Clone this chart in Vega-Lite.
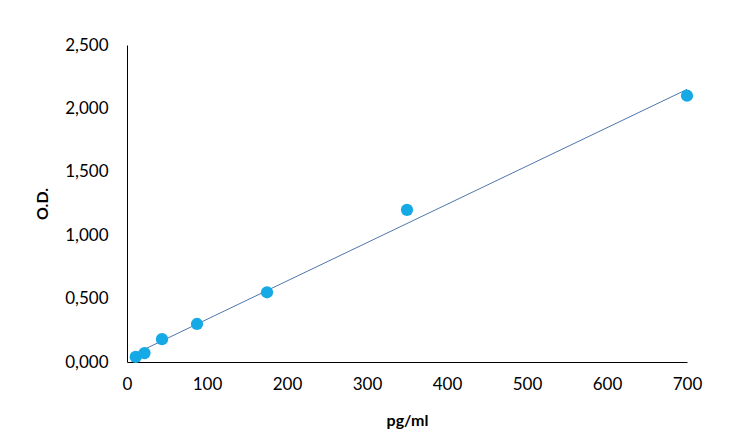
{
  "$schema": "https://vega.github.io/schema/vega-lite/v6.json",
  "width": 560,
  "height": 317,
  "autosize": "none",
  "padding": {"left": 127, "top": 45, "right": 47, "bottom": 85},
  "background": "white",
  "config": {
    "view": {"stroke": null},
    "font": "Lato",
    "axis": {
      "grid": false,
      "ticks": false,
      "labelFlush": false,
      "labelOverlap": false,
      "domainColor": "#000000",
      "domainWidth": 1,
      "labelFont": "Lato",
      "labelFontSize": 17,
      "labelColor": "#000000",
      "titleFont": "Lato",
      "titleFontSize": 16,
      "titleFontWeight": "bold",
      "titleColor": "#000000"
    }
  },
  "data": {
    "values": [
      {"conc": 10.94, "od": 0.04},
      {"conc": 21.88, "od": 0.07},
      {"conc": 43.75, "od": 0.18},
      {"conc": 87.5, "od": 0.3},
      {"conc": 175, "od": 0.55},
      {"conc": 350, "od": 1.2},
      {"conc": 700, "od": 2.1}
    ]
  },
  "encoding": {
    "x": {
      "field": "conc",
      "type": "quantitative",
      "title": "pg/ml",
      "scale": {"domain": [0, 700], "nice": false},
      "axis": {"values": [0, 100, 200, 300, 400, 500, 600, 700], "labelPadding": 14, "titlePadding": 20}
    },
    "y": {
      "field": "od",
      "type": "quantitative",
      "title": "O.D.",
      "scale": {"domain": [0, 2.5], "nice": false},
      "axis": {
        "values": [0, 0.5, 1, 1.5, 2, 2.5],
        "labelExpr": "replace(format(datum.value, '.3f'), '.', ',')",
        "labelPadding": 19,
        "titlePadding": 14
      }
    }
  },
  "layer": [
    {
      "transform": [{"regression": "od", "on": "conc"}],
      "mark": {"type": "line", "color": "#4f76ab", "strokeWidth": 1}
    },
    {
      "mark": {"type": "circle", "color": "#15a9e6", "opacity": 1, "size": 150}
    }
  ]
}
